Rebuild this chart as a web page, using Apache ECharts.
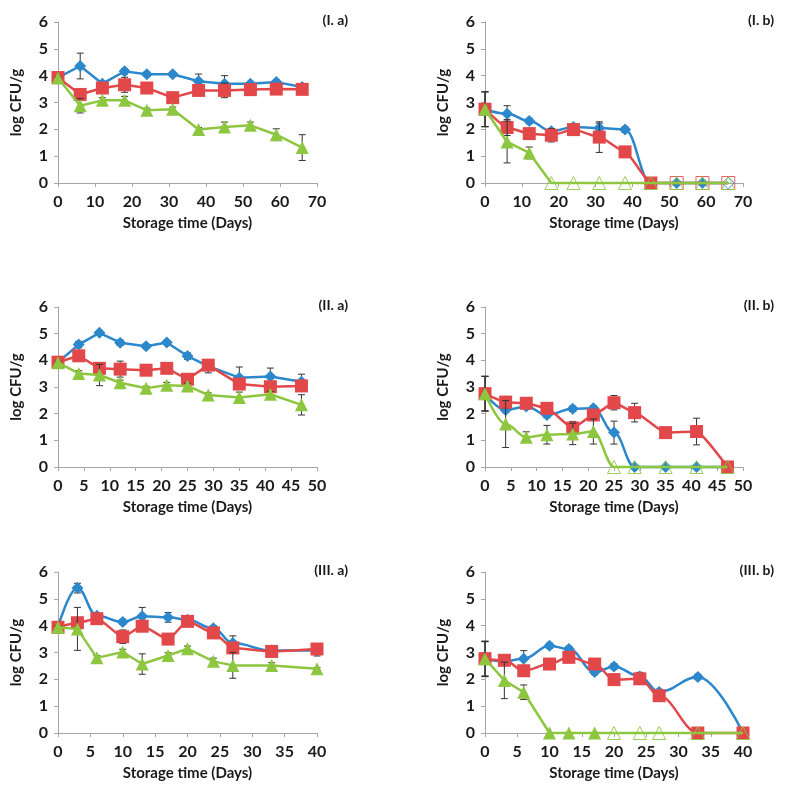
<!DOCTYPE html>
<html><head><meta charset="utf-8">
<script src="https://cdn.jsdelivr.net/npm/echarts@6/dist/echarts.min.js"></script>
<style>html,body{margin:0;padding:0;background:#fff}#c{width:785px;height:793px}</style>
</head><body><div id="c"></div>
<script>
// ---- Data ----
// Panel I (days)
const daysI = [0, 6, 12, 18, 24, 31, 38, 45, 52, 59, 66];
const Ia_blue  = [3.93, 4.36, 3.70, 4.16, 4.05, 4.05, 3.79, 3.70, 3.70, 3.76, 3.58];
const Ia_red   = [3.93, 3.30, 3.54, 3.66, 3.54, 3.18, 3.45, 3.45, 3.48, 3.50, 3.49];
const Ia_green = [3.91, 2.88, 3.08, 3.08, 2.71, 2.75, 1.99, 2.09, 2.15, 1.80, 1.32];
const Ia_blueErr  = [0.05, 0.48, 0.08, 0.10, 0.08, 0.08, 0.27, 0.30, 0.05, 0.08, 0.08];
const Ia_redErr   = [0.05, 0.15, 0.10, 0.28, 0.08, 0.20, 0.18, 0.27, 0.05, 0.05, 0.05];
const Ia_greenErr = [0.05, 0.27, 0.10, 0.15, 0.08, 0.08, 0.08, 0.18, 0.12, 0.22, 0.48];

const Ib_blue  = [2.75, 2.58, 2.31, 1.93, 2.09, 2.05, 1.99, 0, 0, 0, 0];
const Ib_red   = [2.75, 2.07, 1.84, 1.78, 1.99, 1.71, 1.16, 0, 0, 0, 0];
const Ib_green = [2.75, 1.53, 1.12, 0, 0, 0, 0, 0, 0, 0, 0];
const Ib_blueErr  = [0.65, 0.30, 0.10, 0.10, 0.10, 0.18, 0.10, 0, 0, 0, 0];
const Ib_redErr   = [0.65, 0.30, 0.20, 0.25, 0.10, 0.57, 0.20, 0, 0, 0, 0];
const Ib_greenErr = [0.65, 0.78, 0.22, 0, 0, 0, 0, 0, 0, 0, 0];
const Ib_blueHollow  = [0, 0, 0, 0, 0, 0, 0, 0, 0, 0, 1];
const Ib_redHollow   = [0, 0, 0, 0, 0, 0, 0, 0, 1, 1, 1];
const Ib_greenHollow = [0, 0, 0, 1, 1, 1, 1, 1, 1, 1, 1];

// Panel II (days)
const daysII = [0, 4, 8, 12, 17, 21, 25, 29, 35, 41, 47];
const IIa_blue  = [3.93, 4.59, 5.03, 4.66, 4.53, 4.67, 4.16, 3.78, 3.35, 3.39, 3.20];
const IIa_red   = [3.93, 4.17, 3.70, 3.67, 3.63, 3.70, 3.29, 3.82, 3.11, 3.01, 3.04];
const IIa_green = [3.91, 3.51, 3.45, 3.16, 2.95, 3.07, 3.04, 2.70, 2.61, 2.73, 2.33];
const IIa_blueErr  = [0.05, 0.12, 0.08, 0.10, 0.08, 0.08, 0.12, 0.25, 0.40, 0.32, 0.28];
const IIa_redErr   = [0.05, 0.10, 0.10, 0.30, 0.10, 0.10, 0.10, 0.20, 0.20, 0.10, 0.10];
const IIa_greenErr = [0.05, 0.10, 0.40, 0.10, 0.08, 0.10, 0.10, 0.08, 0.20, 0.10, 0.38];

const IIb_blue  = [2.75, 2.14, 2.27, 1.95, 2.18, 2.20, 1.29, 0, 0, 0, 0];
const IIb_red   = [2.75, 2.43, 2.39, 2.20, 1.46, 1.95, 2.41, 2.04, 1.29, 1.33, 0];
const IIb_green = [2.75, 1.61, 1.12, 1.21, 1.24, 1.33, 0, 0, 0, 0, 0];
const IIb_blueErr  = [0.65, 0.10, 0.10, 0.10, 0.10, 0.10, 0.43, 0, 0, 0, 0];
const IIb_redErr   = [0.65, 0.22, 0.10, 0.10, 0.25, 0.10, 0.27, 0.35, 0.05, 0.50, 0];
const IIb_greenErr = [0.65, 0.88, 0.20, 0.35, 0.40, 0.47, 0, 0, 0, 0, 0];
const IIb_greenHollow = [0, 0, 0, 0, 0, 0, 1, 1, 1, 1, 1];

// Panel III (days)
const daysIII = [0, 3, 6, 10, 13, 17, 20, 24, 27, 33, 40];
const IIIa_blue  = [3.95, 5.40, 4.37, 4.14, 4.35, 4.31, 4.22, 3.90, 3.35, 3.07, 3.07];
const IIIa_red   = [3.94, 4.11, 4.26, 3.59, 3.98, 3.50, 4.16, 3.73, 3.17, 3.04, 3.13];
const IIIa_green = [3.94, 3.88, 2.80, 3.02, 2.57, 2.89, 3.14, 2.67, 2.52, 2.52, 2.39];
const IIIa_blueErr  = [0.05, 0.18, 0.08, 0.10, 0.33, 0.18, 0.08, 0.10, 0.27, 0.10, 0.20];
const IIIa_redErr   = [0.05, 0.10, 0.10, 0.25, 0.10, 0.10, 0.10, 0.10, 0.10, 0.10, 0.10];
const IIIa_greenErr = [0.05, 0.80, 0.08, 0.10, 0.38, 0.10, 0.10, 0.12, 0.48, 0.10, 0.05];

const IIIb_blue  = [2.75, 2.67, 2.77, 3.25, 3.13, 2.27, 2.48, 2.11, 1.53, 2.09, 0];
const IIIb_red   = [2.77, 2.71, 2.32, 2.57, 2.82, 2.57, 1.99, 2.02, 1.39, 0, 0];
const IIIb_green = [2.77, 1.96, 1.52, 0, 0, 0, 0, 0, 0, 0, 0];
const IIIb_blueErr  = [0.65, 0.10, 0.30, 0.10, 0.10, 0.10, 0.10, 0.15, 0.10, 0.10, 0];
const IIIb_redErr   = [0.65, 0.10, 0.15, 0.10, 0.20, 0.10, 0.10, 0.10, 0.10, 0, 0];
const IIIb_greenErr = [0.65, 0.68, 0.27, 0, 0, 0, 0, 0, 0, 0, 0];
const IIIb_greenHollow = [0, 0, 0, 0, 0, 0, 1, 1, 1, 1, 1];

const yTicks = [0, 1, 2, 3, 4, 5, 6];
const xAxisTitle = 'Storage time (Days)';
const yAxisTitle = 'log CFU/g';
const panelLabels = ['(I. a)', '(I. b)', '(II. a)', '(II. b)', '(III. a)', '(III. b)'];

// ---- Styling ----
const BLUE = '#2C88CD', RED = '#E2474A', GREEN = '#8DC63F';
const FONT = 'Lato';
const none = new Array(11).fill(0);

const grids = [
  {left: 58,  top: 22,  width: 259, height: 161},
  {left: 485, top: 22,  width: 258, height: 161},
  {left: 58,  top: 307, width: 259, height: 160},
  {left: 485, top: 307, width: 258, height: 160},
  {left: 58,  top: 572, width: 259, height: 161},
  {left: 485, top: 572, width: 258, height: 161}
];

const panels = [
  {days: daysI, max: 70, interval: 10, b: Ia_blue, r: Ia_red, g: Ia_green, be: Ia_blueErr, re: Ia_redErr, ge: Ia_greenErr, bh: none, rh: none, gh: none, sm: [0, 0, 0]},
  {days: daysI, max: 70, interval: 10, b: Ib_blue, r: Ib_red, g: Ib_green, be: Ib_blueErr, re: Ib_redErr, ge: Ib_greenErr, bh: Ib_blueHollow, rh: Ib_redHollow, gh: Ib_greenHollow, sm: [0.4, 0.15, 0]},
  {days: daysII, max: 50, interval: 5, b: IIa_blue, r: IIa_red, g: IIa_green, be: IIa_blueErr, re: IIa_redErr, ge: IIa_greenErr, bh: none, rh: none, gh: none, sm: [0, 0, 0]},
  {days: daysII, max: 50, interval: 5, b: IIb_blue, r: IIb_red, g: IIb_green, be: IIb_blueErr, re: IIb_redErr, ge: IIb_greenErr, bh: none, rh: none, gh: IIb_greenHollow, sm: [0.4, 0.15, 0.35]},
  {days: daysIII, max: 40, interval: 5, b: IIIa_blue, r: IIIa_red, g: IIIa_green, be: IIIa_blueErr, re: IIIa_redErr, ge: IIIa_greenErr, bh: none, rh: none, gh: none, sm: [0.4, 0.2, 0]},
  {days: daysIII, max: 40, interval: 5, b: IIIb_blue, r: IIIb_red, g: IIIb_green, be: IIIb_blueErr, re: IIIb_redErr, ge: IIIb_greenErr, bh: none, rh: none, gh: IIIb_greenHollow, sm: [0.4, 0.35, 0]}
];

const xAxes = [], yAxes = [], series = [], graphics = [];
const labelStyle = {color: '#1a1a1a', fontFamily: FONT, fontWeight: 'bold', fontSize: 16};
const nameStyle = {color: '#1a1a1a', fontFamily: FONT, fontWeight: 'bold', fontSize: 15};

function pts(days, vals, hollow, color, borderW) {
  return days.map((d, i) => {
    const o = {value: [d, vals[i]]};
    if (hollow[i]) o.itemStyle = {color: 'rgba(255,255,255,0)', borderColor: color, borderWidth: borderW, opacity: 0.85};
    return o;
  });
}
function errData(days, vals, errs) {
  const out = [];
  days.forEach((d, i) => { if (errs[i] > 0) out.push([d, vals[i], errs[i]]); });
  return out;
}
function errorRender(params, api) {
  const x = api.value(0), y = api.value(1), e = api.value(2);
  const top = api.coord([x, y + e]), bot = api.coord([x, y - e]);
  const style = {stroke: '#333', lineWidth: 1};
  return {type: 'group', children: [
    {type: 'line', shape: {x1: top[0], y1: top[1], x2: bot[0], y2: bot[1]}, style},
    {type: 'line', shape: {x1: top[0] - 3.5, y1: top[1], x2: top[0] + 3.5, y2: top[1]}, style},
    {type: 'line', shape: {x1: bot[0] - 3.5, y1: bot[1], x2: bot[0] + 3.5, y2: bot[1]}, style}
  ]};
}

panels.forEach((p, k) => {
  xAxes.push({
    gridIndex: k, type: 'value', min: 0, max: p.max, interval: p.interval,
    name: xAxisTitle, nameLocation: 'middle', nameGap: 33, nameTextStyle: nameStyle,
    axisLine: {show: true, lineStyle: {color: '#A6A6A6', width: 1}},
    axisTick: {show: true, length: 4, lineStyle: {color: '#A6A6A6'}},
    axisLabel: Object.assign({margin: 11}, labelStyle),
    splitLine: {show: false}
  });
  yAxes.push({
    gridIndex: k, type: 'value', min: yTicks[0], max: yTicks[yTicks.length - 1], interval: 1,
    name: yAxisTitle, nameLocation: 'middle', nameGap: 34, nameRotate: 90, nameTextStyle: nameStyle,
    axisLine: {show: true, lineStyle: {color: '#A6A6A6', width: 1}},
    axisTick: {show: true, length: 4, lineStyle: {color: '#A6A6A6'}},
    axisLabel: Object.assign({margin: 10}, labelStyle),
    splitLine: {show: false}
  });
  const defs = [
    {vals: p.b, err: p.be, hol: p.bh, color: BLUE, sym: 'diamond', size: 12, sm: p.sm[0]},
    {vals: p.r, err: p.re, hol: p.rh, color: RED, sym: 'rect', size: 13, sm: p.sm[1]},
    {vals: p.g, err: p.ge, hol: p.gh, color: GREEN, sym: 'triangle', size: 13, sm: p.sm[2]}
  ];
  defs.forEach((s, j) => {
    series.push({
      type: 'custom', xAxisIndex: k, yAxisIndex: k, renderItem: errorRender,
      data: errData(p.days, s.vals, s.err), z: 2 + j * 2, silent: true, clip: false
    });
    series.push({
      type: 'line', xAxisIndex: k, yAxisIndex: k, data: pts(p.days, s.vals, s.hol, s.color, 1),
      symbol: s.sym, symbolSize: s.size, smooth: s.sm, smoothMonotone: 'x', showSymbol: true,
      lineStyle: {color: s.color, width: 2.5}, itemStyle: {color: s.color},
      z: 3 + j * 2, clip: false, animation: false
    });
  });
  const g = grids[k];
  graphics.push({
    type: 'text', right: 785 - (g.left + g.width + 31), top: g.top - 9,
    style: {text: panelLabels[k], fill: '#1a1a1a', font: 'bold 14px ' + FONT, textAlign: 'right'}
  });
});

const chart = echarts.init(document.getElementById('c'), null, {renderer: 'canvas'});
chart.setOption({
  animation: false,
  backgroundColor: '#fff',
  grid: grids,
  xAxis: xAxes,
  yAxis: yAxes,
  series: series,
  graphic: graphics
});
</script></body></html>
